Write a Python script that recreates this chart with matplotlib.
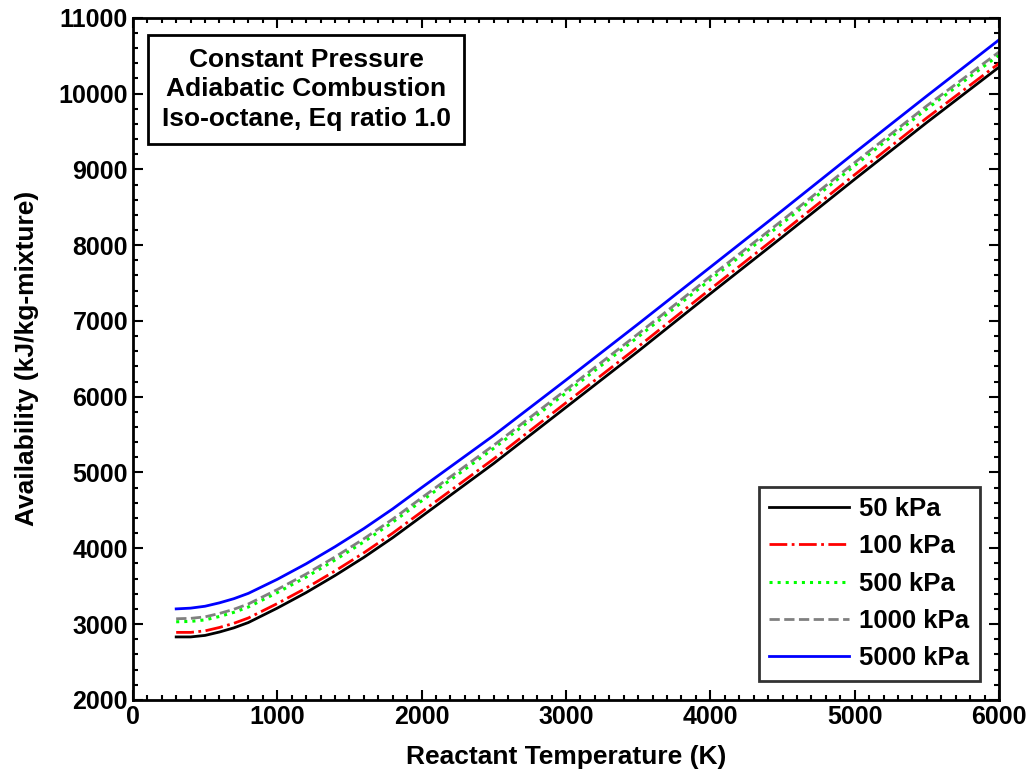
import numpy as np
import matplotlib
matplotlib.use('Agg')
import matplotlib.pyplot as plt
from matplotlib.ticker import MultipleLocator

plt.rcParams['font.family'] = ['Liberation Sans', 'DejaVu Sans']
plt.rcParams['font.weight'] = 'bold'

# reactant temperature (K)
temp = [300, 400, 500, 600, 700, 800, 1000, 1200, 1400, 1600, 1800, 2000, 2500,
        3000, 3500, 4000, 4500, 5000, 5500, 6000]

# availability (kJ/kg-mixture) for each pressure
avail_50 = [2830, 2830, 2850, 2895, 2950, 3020, 3210, 3415, 3640, 3880, 4140,
            4420, 5120, 5860, 6600, 7360, 8110, 8870, 9620, 10350]
avail_100 = [2890, 2890, 2910, 2955, 3010, 3080, 3270, 3475, 3700, 3940, 4200,
             4480, 5180, 5920, 6660, 7420, 8170, 8930, 9680, 10400]
avail_500 = [3030, 3035, 3055, 3100, 3155, 3225, 3415, 3620, 3845, 4085, 4345,
             4625, 5320, 6050, 6790, 7545, 8290, 9050, 9800, 10510]
avail_1000 = [3070, 3075, 3095, 3140, 3195, 3265, 3455, 3660, 3885, 4125, 4385,
              4665, 5360, 6090, 6830, 7585, 8330, 9090, 9840, 10550]
avail_5000 = [3200, 3210, 3235, 3280, 3335, 3405, 3590, 3795, 4020, 4260, 4520,
              4800, 5490, 6220, 6960, 7710, 8460, 9220, 9970, 10710]

labels = ['50 kPa', '100 kPa', '500 kPa', '1000 kPa', '5000 kPa']

fig = plt.figure(figsize=(10.3, 7.75), dpi=100)
ax = fig.add_axes([0.129, 0.097, 0.841, 0.880])

ax.plot(temp, avail_50, color='black', linestyle='-', lw=2, label=labels[0])
ax.plot(temp, avail_100, color='red', linestyle='-.', lw=2, label=labels[1])
ax.plot(temp, avail_500, color='#00ff00', linestyle=':', lw=2.2, label=labels[2])
ax.plot(temp, avail_1000, color='gray', linestyle='--', lw=2, label=labels[3])
ax.plot(temp, avail_5000, color='blue', linestyle='-', lw=2, label=labels[4])

ax.set_xlim(0, 6000)
ax.set_ylim(2000, 11000)
ax.xaxis.set_major_locator(MultipleLocator(1000))
ax.xaxis.set_minor_locator(MultipleLocator(100))
ax.yaxis.set_major_locator(MultipleLocator(1000))
ax.yaxis.set_minor_locator(MultipleLocator(200))
ax.tick_params(which='both', direction='in', top=True, right=True,
               width=1.5, labelsize=18)
ax.tick_params(which='major', length=7)
ax.tick_params(which='minor', length=3.5)
for s in ax.spines.values():
    s.set_linewidth(2)

ax.set_xlabel('Reactant Temperature (K)', fontsize=19, fontweight='bold',
              labelpad=12)
ax.set_ylabel('Availability (kJ/kg-mixture)', fontsize=19, fontweight='bold',
              labelpad=14)

ax.text(0.2, 0.895, 'Constant Pressure\nAdiabatic Combustion\nIso-octane, Eq ratio 1.0',
        transform=ax.transAxes, ha='center', va='center', fontsize=19,
        fontweight='bold', linespacing=1.3,
        bbox=dict(boxstyle='square,pad=0.5', fc='white', ec='black', lw=2))

leg = ax.legend(loc='lower right', fontsize=18.5, frameon=True, fancybox=False,
                edgecolor='black', handlelength=3.1, labelspacing=0.52,
                borderaxespad=0.75, handletextpad=0.4)
leg.get_frame().set_linewidth(2)

fig.savefig('out.png', dpi=100)
